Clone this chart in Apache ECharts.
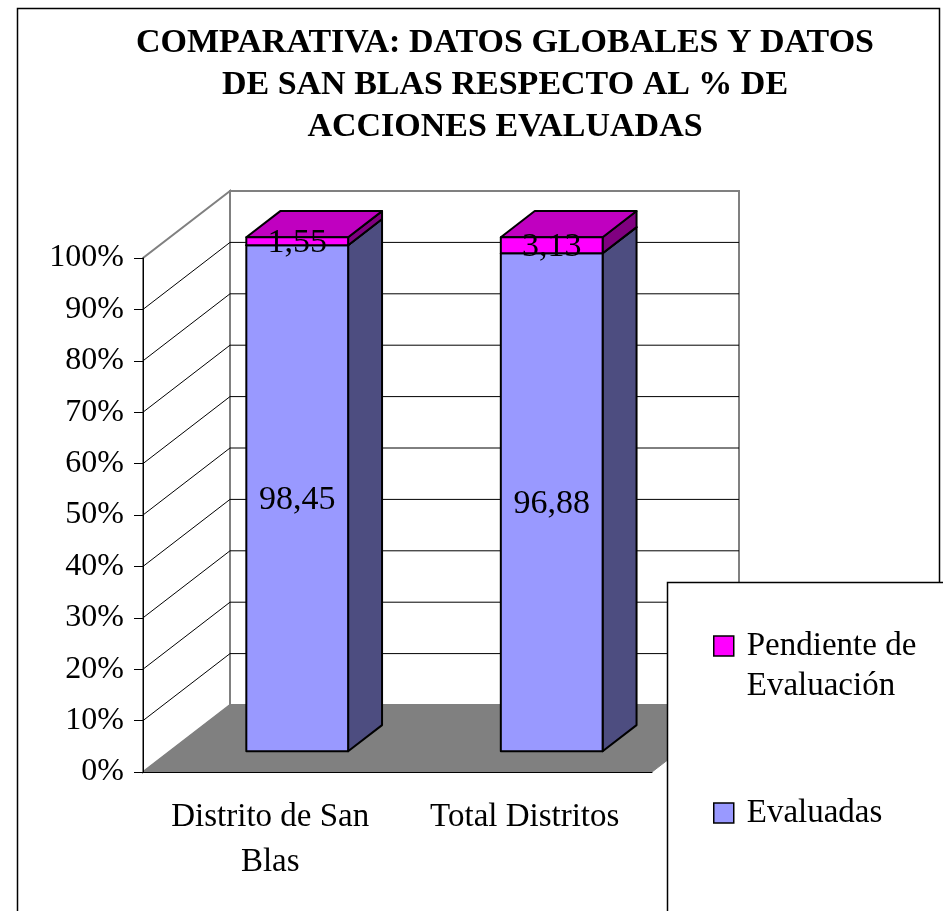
<!DOCTYPE html>
<html>
<head>
<meta charset="utf-8">
<script src="https://cdn.jsdelivr.net/npm/echarts@6/dist/echarts.min.js"></script>
<style>
* { margin: 0; padding: 0; }
body { background: #fff; }
#main { width: 943px; height: 911px; }
</style>
</head>
<body>
<div id="main"></div>
<script>
// datos de la tabla
var categories = ["Distrito de San\nBlas", "Total Distritos"];
var evaluadas = [98.45, 96.88];
var pendiente = [1.55, 3.13];
var yTicks = [0, 10, 20, 30, 40, 50, 60, 70, 80, 90, 100];
var seriesNames = ["Pendiente de Evaluación", "Evaluadas"];

var SERIF = "'Liberation Serif', 'Times New Roman', serif";
var DEPTH = [87, -67];      // desplazamiento de la pared del fondo
var BAR_FRONT = 0.31;       // donde empieza la barra en profundidad
var BAR_DEPTH = 0.39;       // fondo de la barra
var BAR_RATIO = 0.4;
var FACES = {
  "Evaluadas": { front: "#9999FF", side: "#4D4D80", top: "#7A7ACC" },
  "Pendiente de Evaluación": { front: "#FF00FF", side: "#800080", top: "#C000C0" }
};

function fmt(v) {
  return v.toFixed(2).replace(".", ",");
}

// paredes, suelo y lineas de division en perspectiva
function renderWalls(params, api) {
  var r = params.coordSys;
  var L = r.x, R = r.x + r.width, T = r.y, B = r.y + r.height;
  var dx = DEPTH[0], dy = DEPTH[1];
  var gray = "#808080";
  var children = [
    { type: "rect", shape: { x: L + dx, y: T + dy, width: R - L, height: B - T },
      style: { fill: "#fff", stroke: gray, lineWidth: 2 } },
    { type: "polygon", shape: { points: [[L, T], [L, B], [L + dx, B + dy], [L + dx, T + dy]] },
      style: { fill: "#fff", stroke: gray, lineWidth: 2 } },
    { type: "polygon", shape: { points: [[L, B], [R, B], [R + dx, B + dy], [L + dx, B + dy]] },
      style: { fill: gray, stroke: gray, lineWidth: 1 } }
  ];
  var lo = yTicks[0], hi = yTicks[yTicks.length - 1];
  yTicks.forEach(function (t) {
    if (t === lo || t === hi) return;
    var y = api.coord([0, t])[1];
    children.push({ type: "polyline",
      shape: { points: [[L, y], [L + dx, y + dy], [R + dx, y + dy]] },
      style: { fill: null, stroke: "#000", lineWidth: 1 } });
  });
  return { type: "group", children: children };
}

function renderBar(params, api) {
  var cat = api.value(0), lo = api.value(1), hi = api.value(2), v = api.value(3);
  var p0 = api.coord([cat, lo]), p1 = api.coord([cat, hi]);
  var w = api.size([1, 0])[0] * BAR_RATIO;
  var sx = DEPTH[0] * BAR_FRONT, sy = DEPTH[1] * BAR_FRONT;
  var bx = DEPTH[0] * BAR_DEPTH, by = DEPTH[1] * BAR_DEPTH;
  var xl = p0[0] - w / 2 + sx, xr = xl + w;
  var yb = p0[1] + sy, yt = p1[1] + sy;
  var c = FACES[params.seriesName];
  var line = { stroke: "#000", lineWidth: 2, lineJoin: "round" };
  return {
    type: "group",
    children: [
      { type: "polygon", shape: { points: [[xr, yb], [xr + bx, yb + by], [xr + bx, yt + by], [xr, yt]] },
        style: Object.assign({ fill: c.side }, line) },
      { type: "polygon", shape: { points: [[xl, yt], [xr, yt], [xr + bx, yt + by], [xl + bx, yt + by]] },
        style: Object.assign({ fill: c.top }, line) },
      { type: "rect", shape: { x: xl, y: yt, width: w, height: yb - yt },
        style: Object.assign({ fill: c.front }, line) },
      { type: "text", style: { text: fmt(v), x: (xl + xr) / 2, y: (yb + yt) / 2 + 2,
        align: "center", verticalAlign: "middle", fill: "#000",
        font: "34px " + SERIF } }
    ]
  };
}

var dataEval = evaluadas.map(function (v, i) { return [i, 0, v, v]; });
var dataPend = pendiente.map(function (v, i) { return [i, evaluadas[i], evaluadas[i] + v, v]; });

var legendBase = {
  orient: "vertical",
  left: 713,
  padding: 0,
  icon: "rect",
  itemWidth: 20,
  itemHeight: 20,
  selectedMode: false,
  z: 10,
  itemStyle: { borderColor: "#000", borderWidth: 1.5 },
  textStyle: { fontFamily: SERIF, fontSize: 33, lineHeight: 40, color: "#000", padding: [0, 0, 0, 8] }
};

var chart = echarts.init(document.getElementById("main"));
chart.setOption({
  animation: false,
  backgroundColor: "#fff",
  title: {
    text: "COMPARATIVA: DATOS GLOBALES Y DATOS\nDE SAN BLAS RESPECTO AL % DE\nACCIONES EVALUADAS",
    left: 505,
    top: 22,
    padding: 0,
    textAlign: "center",
    textStyle: { fontFamily: SERIF, fontSize: 34, fontWeight: "bold", lineHeight: 42, color: "#000" }
  },
  graphic: [
    { type: "rect", z: 0, silent: true, shape: { x: 17.5, y: 8.5, width: 922, height: 950 },
      style: { fill: "none", stroke: "#000", lineWidth: 1.5 } },
    { type: "rect", z: 9, silent: true, shape: { x: 667.5, y: 582.5, width: 400, height: 400 },
      style: { fill: "#fff", stroke: "#000", lineWidth: 1.5 } }
  ],
  legend: [
    // linea vacia delante para que la primera linea quede alineada con el icono
    Object.assign({}, legendBase, {
      data: [seriesNames[0]],
      top: 586,
      formatter: function (n) { return "\n" + n.replace(" de ", " de\n"); }
    }),
    Object.assign({}, legendBase, {
      data: [seriesNames[1]],
      top: 793
    })
  ],
  grid: { left: 143, top: 258, width: 509, height: 514, containLabel: false },
  xAxis: {
    type: "category",
    data: categories,
    z: 5,
    axisLine: { lineStyle: { color: "#000", width: 1 } },
    axisTick: { length: 9, lineStyle: { color: "#000" } },
    axisLabel: { interval: 0, margin: 23, color: "#000", fontFamily: SERIF, fontSize: 33, lineHeight: 45 },
    splitLine: { show: false }
  },
  yAxis: {
    type: "value",
    min: 0,
    max: 100,
    interval: 10,
    z: 5,
    axisLine: { show: true, lineStyle: { color: "#000", width: 1 } },
    axisTick: { show: true, length: 9, lineStyle: { color: "#000" } },
    axisLabel: { margin: 19, color: "#000", fontFamily: SERIF, fontSize: 32, formatter: "{value}%" },
    splitLine: { show: false }
  },
  series: [
    { name: "walls", type: "custom", silent: true, renderItem: renderWalls, data: [[0, 0]] },
    { name: seriesNames[1], type: "custom", renderItem: renderBar, data: dataEval,
      encode: { x: 0, y: [1, 2] }, itemStyle: { color: FACES["Evaluadas"].front } },
    { name: seriesNames[0], type: "custom", renderItem: renderBar, data: dataPend,
      encode: { x: 0, y: [1, 2] }, itemStyle: { color: FACES["Pendiente de Evaluación"].front } }
  ]
});
</script>
</body>
</html>
